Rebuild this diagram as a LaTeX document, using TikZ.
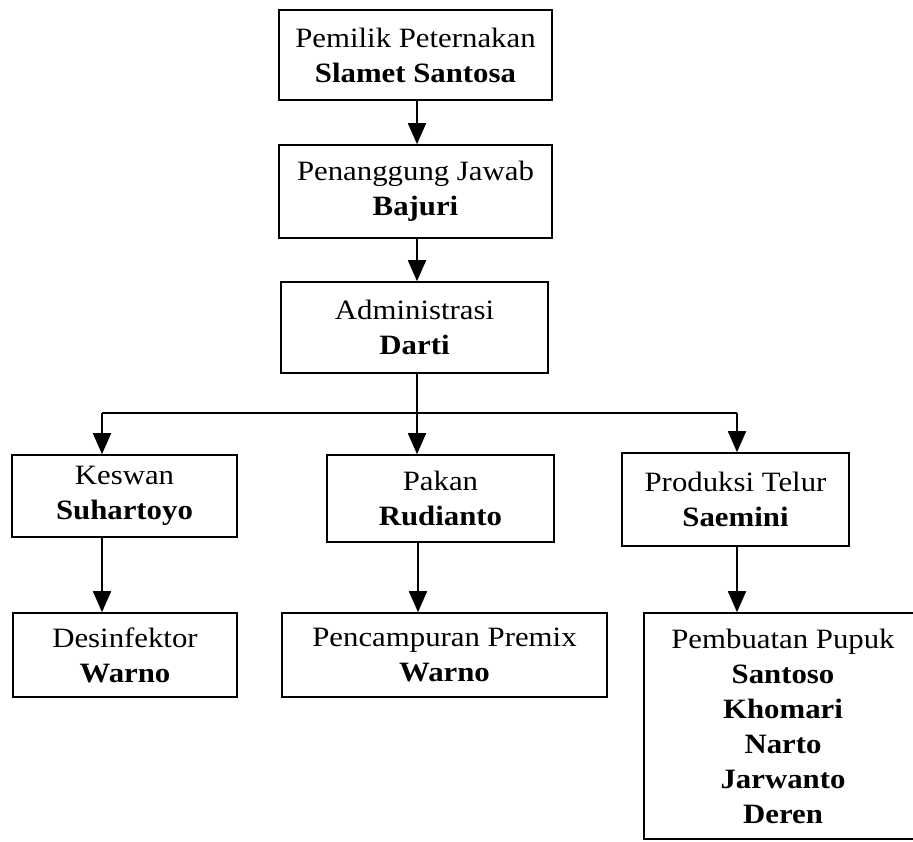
\documentclass[tikz,border=0pt]{standalone}
\usepackage{fontspec}
\setmainfont{Liberation Serif}[FakeStretch=1.1]
\usetikzlibrary{arrows.meta}
\tikzset{
  box/.style={draw, line width=1.6pt, align=center, inner sep=0pt,
    font=\fontsize{28}{35}\selectfont},
  arr/.style={line width=1.8pt, -{Triangle[width=18pt,length=21pt]}},
  ln/.style={line width=1.8pt}
}
\begin{document}
\begin{tikzpicture}[x=1pt,y=-1pt]
\useasboundingbox (0,0) rectangle (913,842);
\node[box, minimum width=273pt, minimum height=90pt] (b1) at (415.5,55)
  {Pemilik Peternakan\\\textbf{Slamet Santosa}};
\node[box, minimum width=273pt, minimum height=93pt] (b2) at (415.5,191.5)
  {Penanggung Jawab\\\textbf{Bajuri}};
\node[box, minimum width=267pt, minimum height=91pt] (b3) at (414.5,327.5)
  {Administrasi\\\textbf{Darti}};
\node[box, minimum width=225pt, minimum height=82pt] (kes) at (124.5,496)
  {Keswan\\\textbf{Suhartoyo}};
\node[box, minimum width=227pt, minimum height=87pt] (pak) at (440.5,498.5)
  {Pakan\\\textbf{Rudianto}};
\node[box, minimum width=227pt, minimum height=93pt] (pro) at (735.5,499.5)
  {Produksi Telur\\\textbf{Saemini}};
\node[box, minimum width=224pt, minimum height=84pt] (des) at (125,655)
  {Desinfektor\\\textbf{Warno}};
\node[box, minimum width=325pt, minimum height=84pt] (pen) at (444.5,655)
  {Pencampuran Premix\\\textbf{Warno}};
\node[box, minimum width=278pt, minimum height=226pt] (pem) at (783,726)
  {Pembuatan Pupuk\\\textbf{Santoso}\\\textbf{Khomari}\\\textbf{Narto}\\\textbf{Jarwanto}\\\textbf{Deren}};
\coordinate (cm) at (417,0);
\draw[arr] (b1.south -| cm) -- (cm |- b2.north);
\draw[arr] (b2.south -| cm) -- (cm |- b3.north);
\coordinate (jl) at (102,413);
\coordinate (jm) at (417,413);
\coordinate (jr) at (737,413);
\draw[ln] (b3.south -| jm) -- (jm);
\draw[ln] (jl) -- (jr);
\draw[arr] (jl) -- (jl |- kes.north);
\draw[arr] (jm) -- (jm |- pak.north);
\draw[arr] (jr) -- (jr |- pro.north);
\draw[arr] (kes.south -| jl) -- (jl |- des.north);
\coordinate (pm) at (418,0);
\draw[arr] (pak.south -| pm) -- (pm |- pen.north);
\draw[arr] (pro.south -| jr) -- (jr |- pem.north);
\end{tikzpicture}
\end{document}
